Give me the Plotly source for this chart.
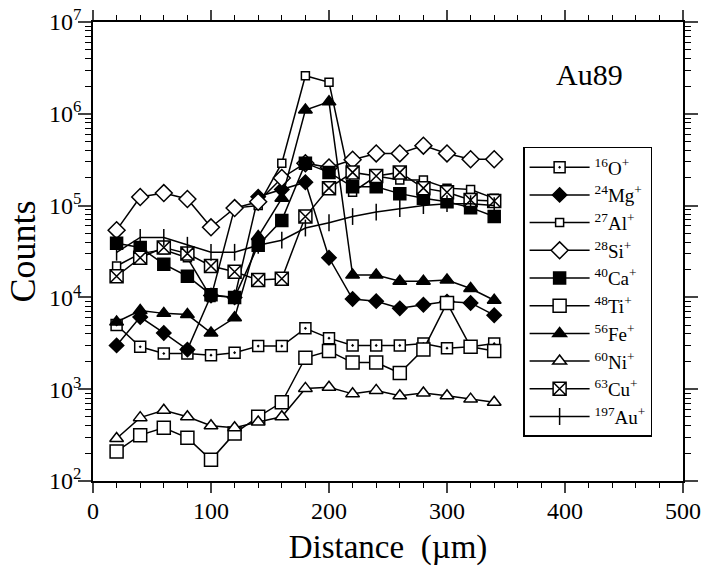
import plotly.graph_objects as go

distance = [20, 40, 60, 80, 100, 120, 140, 160, 180, 200, 220, 240, 260, 280, 300, 320, 340]

O16 = [5000, 2900, 2450, 2450, 2350, 2500, 2950, 2950, 4600, 3600, 3000, 3000, 3000, 3150, 2800, 2900, 3150]
Mg24 = [3000, 6100, 4100, 2700, 10500, 10000, 125000, 150000, 180000, 27000, 9600, 9100, 7600, 8300, 9000, 8700, 6400]
Al27 = [22000, 30000, 33000, 27000, 10000, 94000, 100000, 290000, 2600000, 2200000, 140000, 210000, 190000, 190000, 155000, 150000, 120000]
Si28 = [54000, 124000, 137000, 118000, 58000, 94000, 110000, 200000, 290000, 260000, 316000, 370000, 370000, 450000, 370000, 320000, 320000]
Ca40 = [39000, 35000, 23000, 17000, 10700, 10000, 37000, 69000, 290000, 230000, 160000, 160000, 135000, 120000, 110000, 95000, 76000]
Ti48 = [210, 316, 380, 295, 170, 330, 500, 720, 2200, 2600, 1950, 1950, 1500, 2700, 8700, 2900, 2600]
Fe56 = [5400, 7200, 6700, 6500, 4100, 6000, 46000, 120000, 1100000, 1350000, 17500, 17500, 15000, 15000, 15500, 12500, 9300]
Ni60 = [290, 490, 590, 500, 400, 380, 440, 500, 1020, 1050, 890, 970, 850, 910, 850, 780, 720]
Cu63 = [17000, 27000, 35000, 30000, 22000, 19000, 15500, 16000, 76000, 155000, 230000, 210000, 230000, 155000, 140000, 115000, 112000]
Au197 = [31000, 45000, 45000, 37000, 31000, 31000, 37000, 42000, 57000, 65000, 76000, 85000, 93000, 100000, 105000, 105000, 100000]

names = ["<sup>16</sup>O<sup>+</sup>", "<sup>24</sup>Mg<sup>+</sup>", "<sup>27</sup>Al<sup>+</sup>",
         "<sup>28</sup>Si<sup>+</sup>", "<sup>40</sup>Ca<sup>+</sup>", "<sup>48</sup>Ti<sup>+</sup>",
         "<sup>56</sup>Fe<sup>+</sup>", "<sup>60</sup>Ni<sup>+</sup>", "<sup>63</sup>Cu<sup>+</sup>",
         "<sup>197</sup>Au<sup>+</sup>"]
series = [O16, Mg24, Al27, Si28, Ca40, Ti48, Fe56, Ni60, Cu63, Au197]

x_ticks = [0, 100, 200, 300, 400, 500]
y_ticks = [1e2, 1e3, 1e4, 1e5, 1e6, 1e7]
y_ticktext = ["10<sup>2</sup>", "10<sup>3</sup>", "10<sup>4</sup>", "10<sup>5</sup>", "10<sup>6</sup>", "10<sup>7</sup>"]

styles = [
    dict(symbol="square-dot", size=11, color="white"),
    dict(symbol="diamond", size=11, color="black"),
    dict(symbol="square", size=8, color="white"),
    dict(symbol="diamond", size=13, color="white"),
    dict(symbol="square", size=12, color="black"),
    dict(symbol="square", size=13, color="white"),
    dict(symbol="triangle-up", size=12, color="black"),
    dict(symbol="triangle-up", size=12, color="white"),
    dict(symbol="square-x", size=13, color="white"),
    dict(symbol="line-ns", size=12, color="black"),
]

FONT = "Liberation Serif, Times New Roman, serif"

fig = go.Figure()
for name, vals, st in zip(names, series, styles):
    fig.add_trace(go.Scatter(
        x=distance, y=vals, name=name, mode="lines+markers",
        line=dict(color="black", width=1.5),
        marker=dict(symbol=st["symbol"], size=st["size"], color=st["color"],
                    line=dict(color="black", width=1.5)),
    ))

minor_y = [k * 10 ** n for n in range(2, 7) for k in range(2, 10)]

fig.update_layout(
    width=702, height=567,
    margin=dict(l=93, r=19, t=22, b=86),
    paper_bgcolor="white", plot_bgcolor="white",
    font=dict(family=FONT, color="black", size=24),
    showlegend=True,
    legend=dict(x=0.729, y=0.728, xanchor="left", yanchor="top",
                bgcolor="white", bordercolor="black", borderwidth=1.5,
                font=dict(family=FONT, size=19, color="black"),
                itemwidth=60, tracegroupgap=0),
    xaxis=dict(range=[0, 500], tickvals=x_ticks, ticks="outside", ticklen=10, tickwidth=1.5,
               showline=True, linecolor="black", linewidth=1.5, mirror="allticks",
               showgrid=False, zeroline=False, automargin=False,
               ticklabelstandoff=-3,
               minor=dict(tickvals=list(range(20, 500, 20)), ticks="outside", ticklen=5,
                          tickwidth=1.2, tickcolor="black", showgrid=False),
               title=dict(text="Distance  (µm)", font=dict(size=33, family=FONT), standoff=12),
               tickfont=dict(size=24, family=FONT)),
    yaxis=dict(type="log", range=[2, 7], tickvals=y_ticks, ticktext=y_ticktext,
               ticks="outside", ticklen=13, tickwidth=1.5,
               showline=True, linecolor="black", linewidth=1.5, mirror="allticks",
               showgrid=False, zeroline=False, automargin=False,
               ticklabelstandoff=-8,
               minor=dict(tickvals=minor_y, ticks="outside", ticklen=6,
                          tickwidth=1.2, tickcolor="black", showgrid=False),
               title=dict(text="Counts", font=dict(size=36, family=FONT), standoff=2),
               tickfont=dict(size=24, family=FONT)),
    annotations=[dict(text="Au89", x=0.842, y=0.885, xref="paper", yref="paper",
                      xanchor="center", yanchor="middle",
                      showarrow=False, font=dict(size=30, family=FONT, color="black"))],
)

fig.write_html("out.html", config={"displayModeBar": False},
               post_script="document.body.style.margin='0';")
